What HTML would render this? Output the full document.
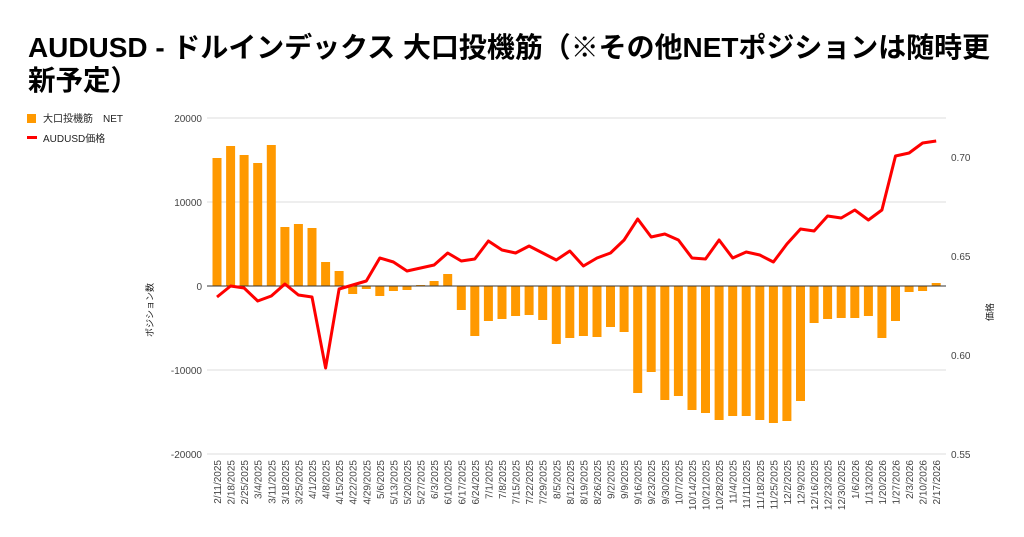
<!DOCTYPE html>
<html><head><meta charset="utf-8"><style>
html,body{margin:0;padding:0;background:#fff;}
svg{display:block;font-family:"Liberation Sans","Noto Sans CJK JP",sans-serif;}
</style></head><body>
<svg width="1024" height="537" viewBox="0 0 1024 537" xmlns="http://www.w3.org/2000/svg">
<rect width="1024" height="537" fill="#fff"/>
<text x="28" y="57" font-size="28" font-weight="bold" fill="#000" textLength="962" lengthAdjust="spacingAndGlyphs">AUDUSD - ドルインデックス 大口投機筋（※その他NETポジションは随時更</text>
<text x="28" y="90" font-size="28" font-weight="bold" fill="#000" textLength="110" lengthAdjust="spacingAndGlyphs">新予定）</text>
<!-- legend -->
<rect x="27" y="114" width="9" height="9" fill="#ff9900"/>
<text x="43" y="122" font-size="10" fill="#222">大口投機筋　NET</text>
<rect x="27" y="136" width="10" height="3" fill="#ff0000"/>
<text x="43" y="142" font-size="10" fill="#222">AUDUSD価格</text>
<!-- grid -->
<g stroke="#dcdcdc" stroke-width="1">
<line x1="207" x2="946" y1="118" y2="118"/>
<line x1="207" x2="946" y1="202" y2="202"/>
<line x1="207" x2="946" y1="370" y2="370"/>
<line x1="207" x2="946" y1="454" y2="454"/>
</g>
<g font-size="10" fill="#444" text-anchor="end">
<text x="202" y="122">20000</text>
<text x="202" y="206">10000</text>
<text x="202" y="290">0</text>
<text x="202" y="374">-10000</text>
<text x="202" y="458">-20000</text>
</g>
<g font-size="10" fill="#444">
<text x="951" y="161">0.70</text>
<text x="951" y="260">0.65</text>
<text x="951" y="359">0.60</text>
<text x="951" y="458">0.55</text>
</g>
<text transform="translate(153,310) rotate(-90)" font-size="9" fill="#222" text-anchor="middle">ポジション数</text>
<text transform="translate(993,312) rotate(-90)" font-size="9" fill="#222" text-anchor="middle">価格</text>
<!-- bars -->
<g fill="#ff9900">
<rect x="212.5" y="158" width="9" height="128"/>
<rect x="226.1" y="146" width="9" height="140"/>
<rect x="239.6" y="155" width="9" height="131"/>
<rect x="253.2" y="163" width="9" height="123"/>
<rect x="266.8" y="145" width="9" height="141"/>
<rect x="280.4" y="227" width="9" height="59"/>
<rect x="293.9" y="224" width="9" height="62"/>
<rect x="307.5" y="228" width="9" height="58"/>
<rect x="321.1" y="262" width="9" height="24"/>
<rect x="334.6" y="271" width="9" height="15"/>
<rect x="348.2" y="286" width="9" height="8"/>
<rect x="361.8" y="286" width="9" height="3"/>
<rect x="375.3" y="286" width="9" height="10"/>
<rect x="388.9" y="286" width="9" height="5"/>
<rect x="402.5" y="286" width="9" height="4"/>
<rect x="416.1" y="285" width="9" height="1"/>
<rect x="429.6" y="281" width="9" height="5"/>
<rect x="443.2" y="274" width="9" height="12"/>
<rect x="456.8" y="286" width="9" height="24"/>
<rect x="470.3" y="286" width="9" height="50"/>
<rect x="483.9" y="286" width="9" height="35"/>
<rect x="497.5" y="286" width="9" height="33"/>
<rect x="511.1" y="286" width="9" height="30"/>
<rect x="524.6" y="286" width="9" height="29"/>
<rect x="538.2" y="286" width="9" height="34"/>
<rect x="551.8" y="286" width="9" height="58"/>
<rect x="565.3" y="286" width="9" height="52"/>
<rect x="578.9" y="286" width="9" height="50"/>
<rect x="592.5" y="286" width="9" height="51"/>
<rect x="606" y="286" width="9" height="41"/>
<rect x="619.6" y="286" width="9" height="46"/>
<rect x="633.2" y="286" width="9" height="107"/>
<rect x="646.7" y="286" width="9" height="86"/>
<rect x="660.3" y="286" width="9" height="114"/>
<rect x="673.9" y="286" width="9" height="110"/>
<rect x="687.5" y="286" width="9" height="124"/>
<rect x="701" y="286" width="9" height="127"/>
<rect x="714.6" y="286" width="9" height="134"/>
<rect x="728.2" y="286" width="9" height="130"/>
<rect x="741.7" y="286" width="9" height="130"/>
<rect x="755.3" y="286" width="9" height="134"/>
<rect x="768.9" y="286" width="9" height="137"/>
<rect x="782.4" y="286" width="9" height="135"/>
<rect x="796" y="286" width="9" height="115"/>
<rect x="809.6" y="286" width="9" height="37"/>
<rect x="823.1" y="286" width="9" height="33"/>
<rect x="836.7" y="286" width="9" height="32"/>
<rect x="850.3" y="286" width="9" height="32"/>
<rect x="863.9" y="286" width="9" height="30"/>
<rect x="877.4" y="286" width="9" height="52"/>
<rect x="891" y="286" width="9" height="35"/>
<rect x="904.6" y="286" width="9" height="6"/>
<rect x="918.1" y="286" width="9" height="5"/>
<rect x="931.7" y="283" width="9" height="3"/>
</g>
<line x1="207" x2="946" y1="286" y2="286" stroke="#333" stroke-width="1"/>
<polyline fill="none" stroke="#ff0000" stroke-width="3" stroke-linejoin="round" points="217,297 230.6,286 244.1,288 257.7,301 271.3,296 284.9,284 298.4,295 312,297 325.6,368 339.1,289 352.7,285 366.3,281 379.8,258 393.4,262 407,271 420.6,268 434.1,265 447.7,253 461.3,261 474.8,259 488.4,241 502,250 515.6,253 529.1,246 542.7,253 556.3,260 569.8,251 583.4,266 597,258 610.5,253 624.1,240 637.7,219 651.2,237 664.8,234 678.4,240 692,258 705.5,259 719.1,240 732.7,258 746.2,252 759.8,255 773.4,262 786.9,244 800.5,229 814.1,231 827.6,216 841.2,218 854.8,210 868.4,220 881.9,210 895.5,156 909.1,153 922.6,143 936.2,141"/>
<g font-size="10" fill="#444" text-anchor="end">
<text transform="translate(221,460) rotate(-90)">2/11/2025</text>
<text transform="translate(234.6,460) rotate(-90)">2/18/2025</text>
<text transform="translate(248.1,460) rotate(-90)">2/25/2025</text>
<text transform="translate(261.7,460) rotate(-90)">3/4/2025</text>
<text transform="translate(275.3,460) rotate(-90)">3/11/2025</text>
<text transform="translate(288.9,460) rotate(-90)">3/18/2025</text>
<text transform="translate(302.4,460) rotate(-90)">3/25/2025</text>
<text transform="translate(316,460) rotate(-90)">4/1/2025</text>
<text transform="translate(329.6,460) rotate(-90)">4/8/2025</text>
<text transform="translate(343.1,460) rotate(-90)">4/15/2025</text>
<text transform="translate(356.7,460) rotate(-90)">4/22/2025</text>
<text transform="translate(370.3,460) rotate(-90)">4/29/2025</text>
<text transform="translate(383.8,460) rotate(-90)">5/6/2025</text>
<text transform="translate(397.4,460) rotate(-90)">5/13/2025</text>
<text transform="translate(411,460) rotate(-90)">5/20/2025</text>
<text transform="translate(424.6,460) rotate(-90)">5/27/2025</text>
<text transform="translate(438.1,460) rotate(-90)">6/3/2025</text>
<text transform="translate(451.7,460) rotate(-90)">6/10/2025</text>
<text transform="translate(465.3,460) rotate(-90)">6/17/2025</text>
<text transform="translate(478.8,460) rotate(-90)">6/24/2025</text>
<text transform="translate(492.4,460) rotate(-90)">7/1/2025</text>
<text transform="translate(506,460) rotate(-90)">7/8/2025</text>
<text transform="translate(519.6,460) rotate(-90)">7/15/2025</text>
<text transform="translate(533.1,460) rotate(-90)">7/22/2025</text>
<text transform="translate(546.7,460) rotate(-90)">7/29/2025</text>
<text transform="translate(560.3,460) rotate(-90)">8/5/2025</text>
<text transform="translate(573.8,460) rotate(-90)">8/12/2025</text>
<text transform="translate(587.4,460) rotate(-90)">8/19/2025</text>
<text transform="translate(601,460) rotate(-90)">8/26/2025</text>
<text transform="translate(614.5,460) rotate(-90)">9/2/2025</text>
<text transform="translate(628.1,460) rotate(-90)">9/9/2025</text>
<text transform="translate(641.7,460) rotate(-90)">9/16/2025</text>
<text transform="translate(655.2,460) rotate(-90)">9/23/2025</text>
<text transform="translate(668.8,460) rotate(-90)">9/30/2025</text>
<text transform="translate(682.4,460) rotate(-90)">10/7/2025</text>
<text transform="translate(696,460) rotate(-90)">10/14/2025</text>
<text transform="translate(709.5,460) rotate(-90)">10/21/2025</text>
<text transform="translate(723.1,460) rotate(-90)">10/28/2025</text>
<text transform="translate(736.7,460) rotate(-90)">11/4/2025</text>
<text transform="translate(750.2,460) rotate(-90)">11/11/2025</text>
<text transform="translate(763.8,460) rotate(-90)">11/18/2025</text>
<text transform="translate(777.4,460) rotate(-90)">11/25/2025</text>
<text transform="translate(790.9,460) rotate(-90)">12/2/2025</text>
<text transform="translate(804.5,460) rotate(-90)">12/9/2025</text>
<text transform="translate(818.1,460) rotate(-90)">12/16/2025</text>
<text transform="translate(831.6,460) rotate(-90)">12/23/2025</text>
<text transform="translate(845.2,460) rotate(-90)">12/30/2025</text>
<text transform="translate(858.8,460) rotate(-90)">1/6/2026</text>
<text transform="translate(872.4,460) rotate(-90)">1/13/2026</text>
<text transform="translate(885.9,460) rotate(-90)">1/20/2026</text>
<text transform="translate(899.5,460) rotate(-90)">1/27/2026</text>
<text transform="translate(913.1,460) rotate(-90)">2/3/2026</text>
<text transform="translate(926.6,460) rotate(-90)">2/10/2026</text>
<text transform="translate(940.2,460) rotate(-90)">2/17/2026</text>
</g>
</svg>
</body></html>
